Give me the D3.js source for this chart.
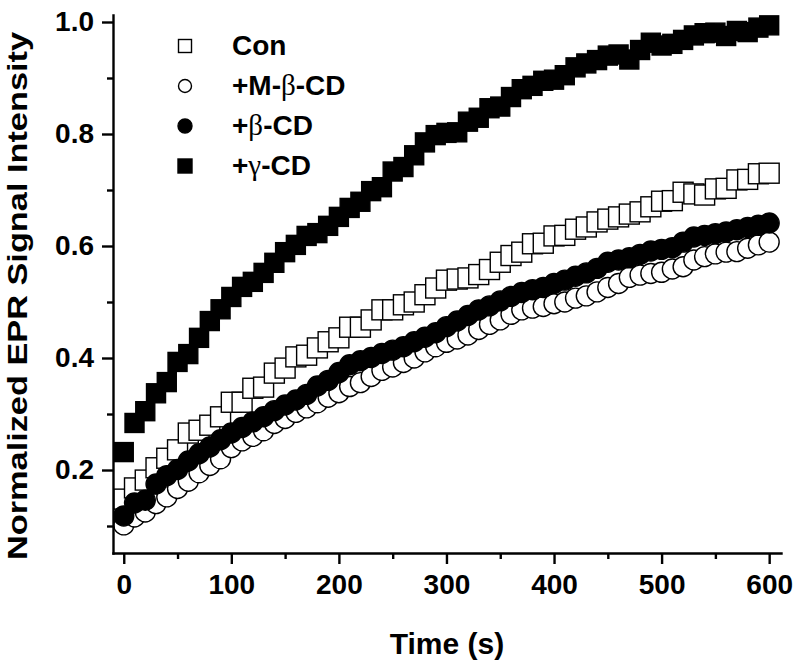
<!DOCTYPE html>
<html>
<head>
<meta charset="utf-8">
<script src="https://cdn.jsdelivr.net/npm/d3@7"></script>
<style>
  html, body { margin: 0; padding: 0; background: #fff; }
  svg { display: block; }
  text { font-family: "Liberation Sans", Arial, Helvetica, sans-serif; font-weight: bold; fill: #000; }
</style>
</head>
<body>
<div id="chart"></div>
<script>
// ---- data ----
const times = [0,10,20,30,40,50,60,70,80,90,100,110,120,130,140,150,160,170,180,190,
  200,210,220,230,240,250,260,270,280,290,300,310,320,330,340,350,360,370,380,390,
  400,410,420,430,440,450,460,470,480,490,500,510,520,530,540,550,560,570,580,590,600];

const seriesNames = ["Con", "+M-\u03B2-CD", "+\u03B2-CD", "+\u03B3-CD"];

const conValues = [0.148,0.168,0.182,0.204,0.221,0.236,0.266,0.271,0.280,0.295,
  0.321,0.321,0.346,0.348,0.373,0.382,0.402,0.405,0.418,0.429,
  0.436,0.455,0.455,0.468,0.486,0.486,0.495,0.500,0.513,0.525,
  0.539,0.541,0.543,0.549,0.558,0.571,0.583,0.589,0.604,0.605,
  0.618,0.619,0.630,0.634,0.643,0.648,0.652,0.657,0.661,0.670,
  0.680,0.681,0.696,0.693,0.691,0.702,0.703,0.718,0.719,0.729,0.730];

const mbcdValues = [0.102,0.116,0.125,0.140,0.152,0.167,0.180,0.195,0.208,0.220,
  0.240,0.252,0.260,0.270,0.283,0.292,0.303,0.311,0.320,0.330,
  0.338,0.349,0.356,0.367,0.378,0.384,0.392,0.400,0.411,0.420,
  0.428,0.434,0.441,0.451,0.460,0.468,0.478,0.486,0.489,0.492,
  0.497,0.500,0.507,0.511,0.518,0.526,0.533,0.544,0.548,0.551,
  0.553,0.559,0.563,0.575,0.581,0.586,0.589,0.590,0.596,0.602,0.607];

const bcdValues = [0.118,0.141,0.146,0.175,0.190,0.201,0.216,0.229,0.241,0.254,
  0.266,0.276,0.286,0.295,0.306,0.316,0.325,0.335,0.350,0.360,
  0.374,0.388,0.395,0.401,0.408,0.414,0.420,0.429,0.437,0.445,
  0.456,0.466,0.476,0.486,0.493,0.502,0.510,0.517,0.522,0.526,
  0.533,0.539,0.546,0.552,0.560,0.571,0.575,0.579,0.585,0.591,
  0.594,0.597,0.607,0.616,0.619,0.622,0.625,0.629,0.633,0.637,0.641];

const gcdValues = [0.232,0.284,0.305,0.337,0.357,0.393,0.407,0.436,0.466,0.487,
  0.509,0.527,0.536,0.552,0.570,0.589,0.602,0.618,0.623,0.636,
  0.652,0.668,0.679,0.698,0.705,0.733,0.741,0.762,0.785,0.798,
  0.802,0.803,0.822,0.829,0.846,0.849,0.866,0.880,0.886,0.895,
  0.897,0.905,0.919,0.926,0.932,0.940,0.942,0.933,0.950,0.963,
  0.958,0.961,0.968,0.976,0.980,0.981,0.975,0.984,0.982,0.990,0.994];

const xMajorTicks = [0,100,200,300,400,500,600];
const xMinorTicks = [50,150,250,350,450,550];
const yMajorTicks = [0.2,0.4,0.6,0.8,1.0];
const yMinorTicks = [0.1,0.3,0.5,0.7,0.9];
const xTitle = "Time (s)";
const yTitle = "Normalized EPR Signal Intensity";

// ---- drawing ----
const W = 800, H = 666;
const svg = d3.select("#chart").append("svg").attr("width", W).attr("height", H);
svg.append("rect").attr("width", W).attr("height", H).attr("fill", "#fff");

const x = d3.scaleLinear().domain([-10, 611]).range([113, 781]);
const y = d3.scaleLinear().domain([0.0518, 1.0125]).range([553, 15]);

const series = [
  { name: seriesNames[0], values: conValues,  shape: "square", fill: "#fff", size: 20, lsize: 13 },
  { name: seriesNames[1], values: mbcdValues, shape: "circle", fill: "#fff", size: 20, lsize: 13 },
  { name: seriesNames[2], values: bcdValues,  shape: "circle", fill: "#000", size: 20, lsize: 14 },
  { name: seriesNames[3], values: gcdValues,  shape: "square", fill: "#000", size: 19, lsize: 14 }
];

function drawMarker(g, shape, fill, size, cx, cy) {
  if (shape === "square") {
    g.append("rect")
      .attr("x", cx - size / 2).attr("y", cy - size / 2)
      .attr("width", size).attr("height", size)
      .attr("fill", fill).attr("stroke", "#000").attr("stroke-width", 1.4);
  } else {
    g.append("circle")
      .attr("cx", cx).attr("cy", cy).attr("r", size / 2)
      .attr("fill", fill).attr("stroke", "#000").attr("stroke-width", 1.4);
  }
}

const plot = svg.append("g");
series.forEach(s => {
  const g = plot.append("g");
  times.forEach((t, i) => drawMarker(g, s.shape, s.fill, s.size, x(t), y(s.values[i])));
});

const axisStyle = (g, fs) => {
  g.selectAll(".domain").attr("stroke", "#000").attr("stroke-width", 2.4).attr("stroke-linecap", "square");
  g.selectAll(".tick line").attr("stroke", "#000").attr("stroke-width", 2.4);
  g.selectAll(".tick text").style("font-size", fs + "px")
    .style("font-family", '"Liberation Sans", Arial, sans-serif').style("font-weight", "bold").attr("fill", "#000");
};

const gxMinor = svg.append("g").attr("transform", "translate(0,553)")
  .call(d3.axisBottom(x).tickValues(xMinorTicks).tickSize(6).tickFormat(""));
gxMinor.select(".domain").remove();
axisStyle(gxMinor, 28);

const gx = svg.append("g").attr("transform", "translate(0,553)")
  .call(d3.axisBottom(x).tickValues(xMajorTicks).tickSize(11).tickSizeOuter(0).tickPadding(10).tickFormat(d3.format("d")));
axisStyle(gx, 28);

const gyMinor = svg.append("g").attr("transform", "translate(113,0)")
  .call(d3.axisLeft(y).tickValues(yMinorTicks).tickSize(6).tickFormat(""));
gyMinor.select(".domain").remove();
axisStyle(gyMinor, 28);

const gy = svg.append("g").attr("transform", "translate(113,0)")
  .call(d3.axisLeft(y).tickValues(yMajorTicks).tickSize(11).tickSizeOuter(0).tickPadding(8).tickFormat(d3.format(".1f")));
axisStyle(gy, 28);

svg.append("text")
  .attr("x", 447).attr("y", 654).attr("text-anchor", "middle")
  .style("font-size", "30px").text(xTitle);

svg.append("text")
  .attr("transform", "translate(27,296) rotate(-90)")
  .attr("text-anchor", "middle")
  .attr("textLength", 528).attr("lengthAdjust", "spacingAndGlyphs")
  .style("font-size", "28px").text(yTitle);

const legend = svg.append("g");
const legendBaselines = [55, 95, 135, 175];
series.forEach((s, i) => {
  const by = legendBaselines[i];
  drawMarker(legend, s.shape, s.fill, s.lsize, 185, by - 9);
  const t = legend.append("text").attr("x", 232).attr("y", by).style("font-size", "28px");
  const parts = s.name.split(/([\u03B2\u03B3])/);
  parts.forEach(p => {
    if (p === "") return;
    const ts = t.append("tspan").text(p);
    if (/[\u03B2\u03B3]/.test(p)) {
      ts.style("font-family", '"Liberation Serif", "DejaVu Serif", serif').style("font-weight", "normal").style("font-size", "29px");
    }
  });
});
</script>
</body>
</html>
